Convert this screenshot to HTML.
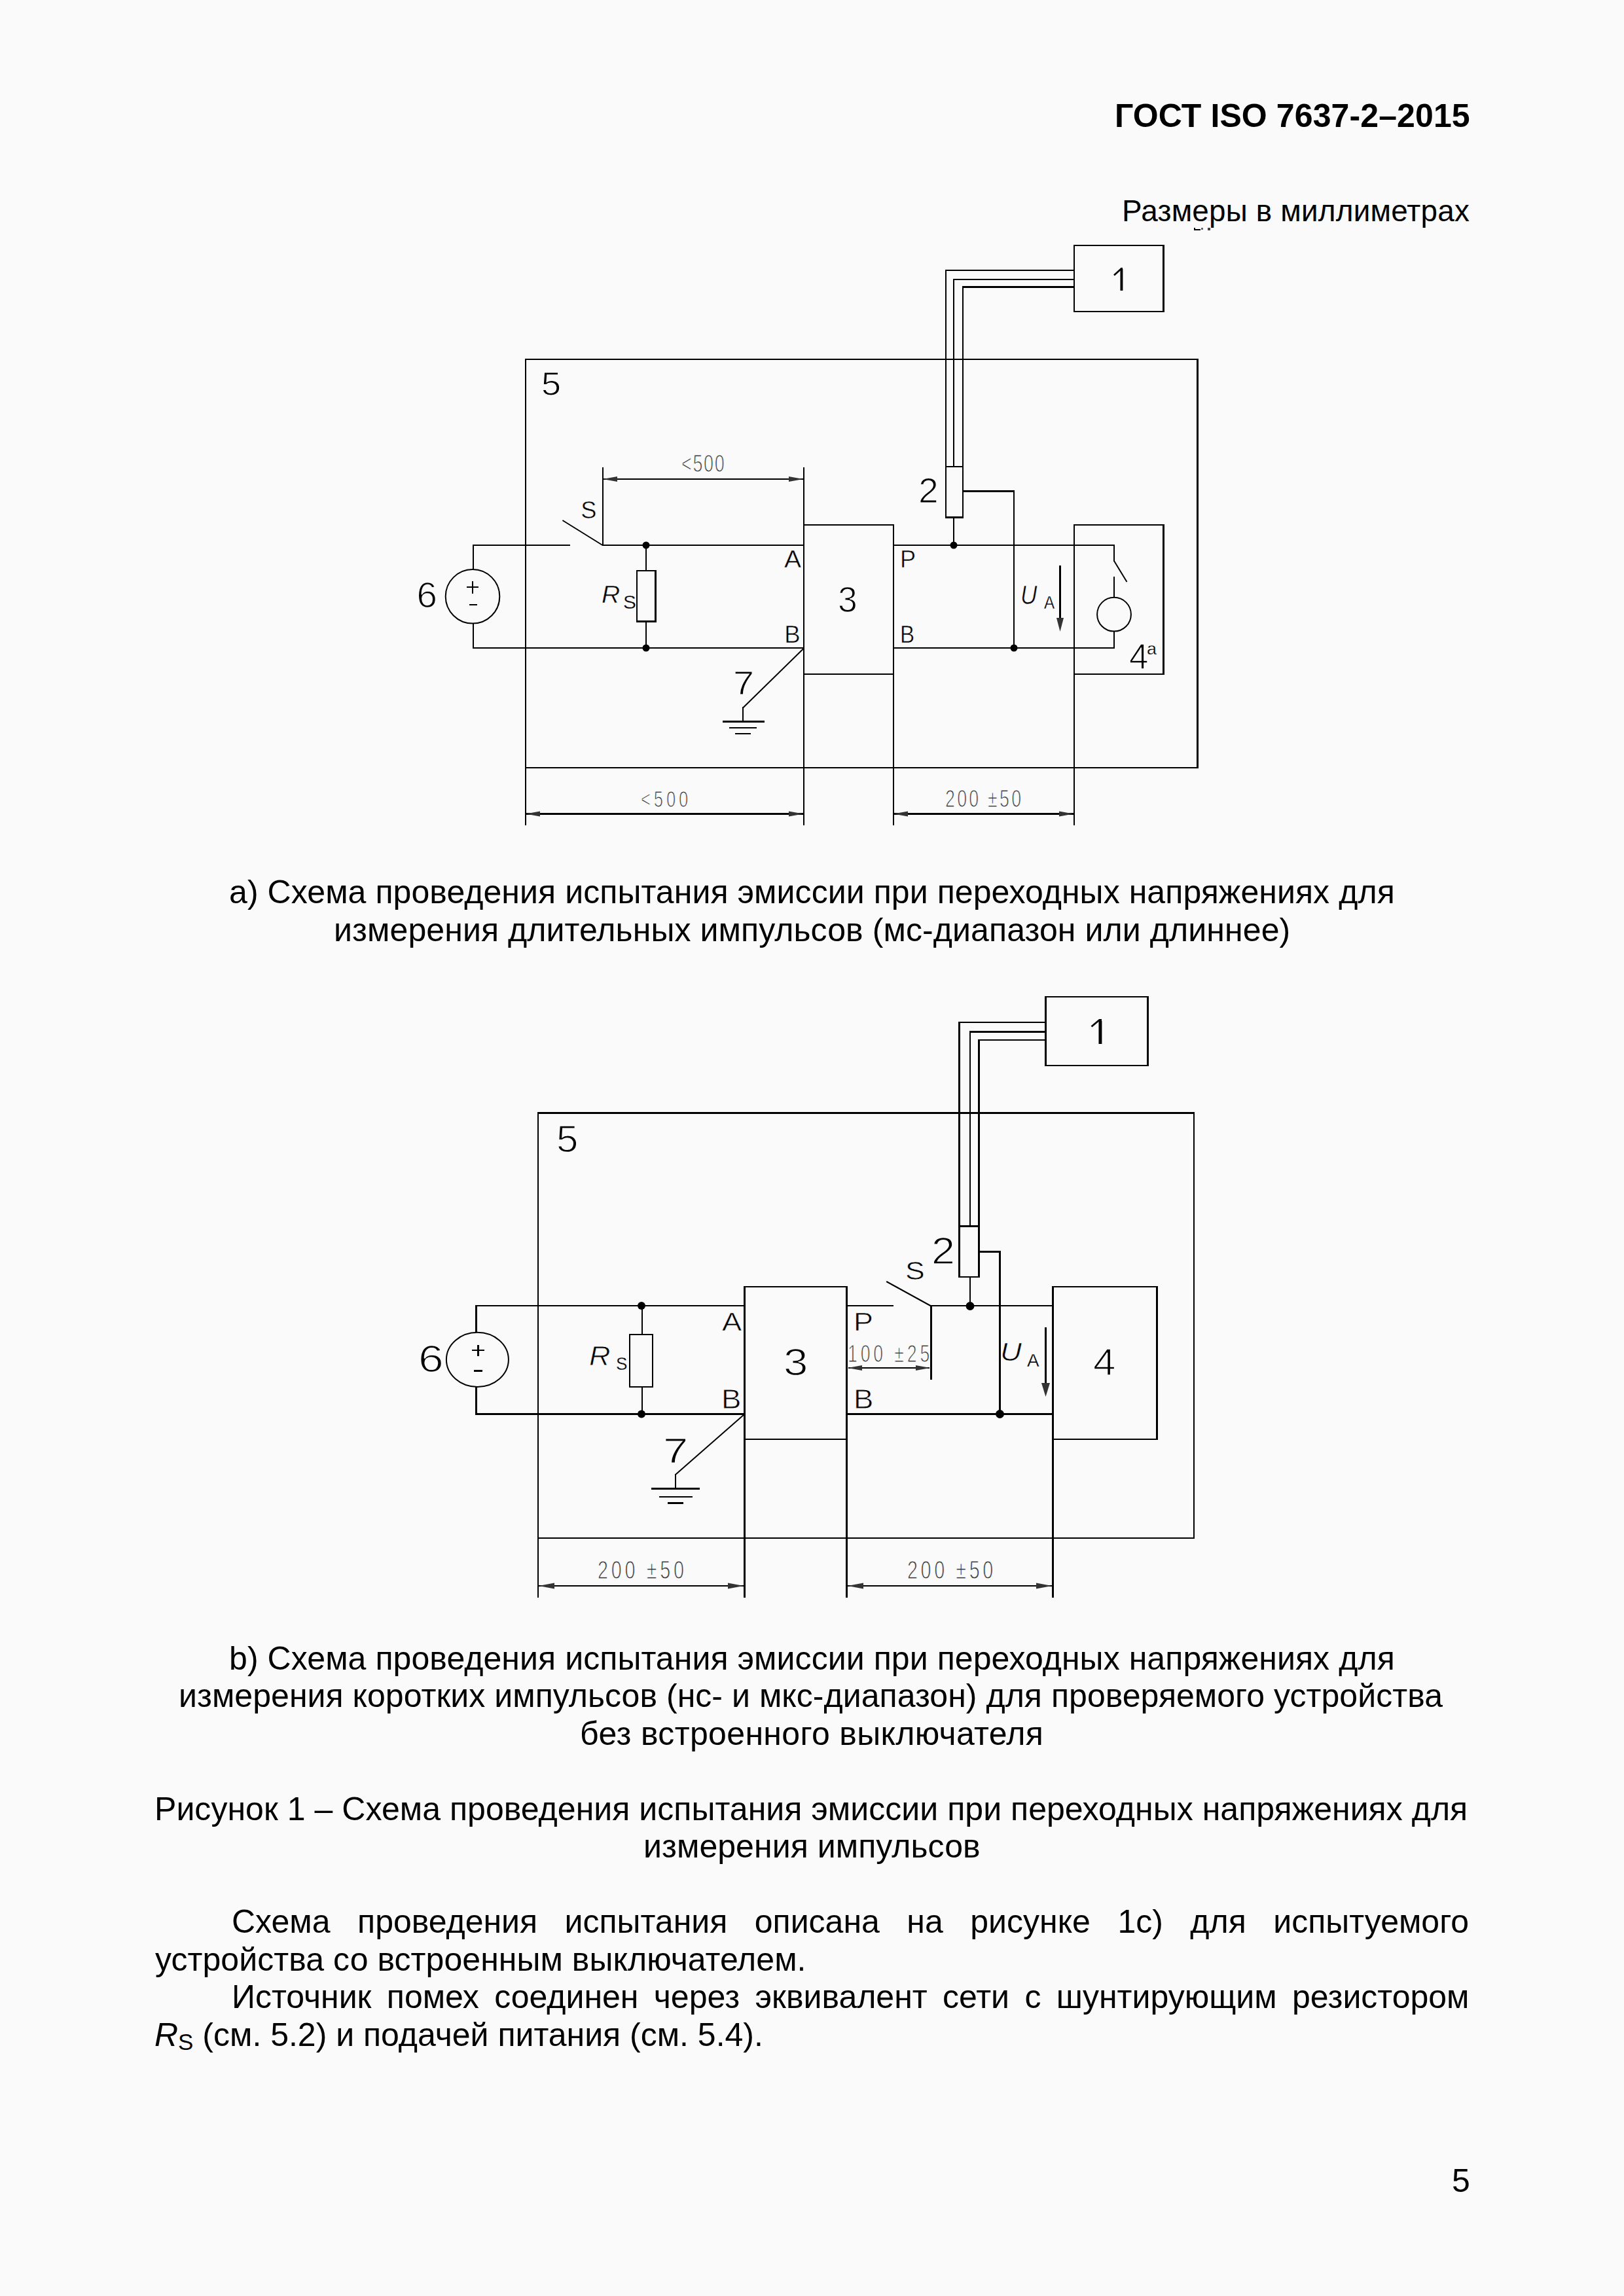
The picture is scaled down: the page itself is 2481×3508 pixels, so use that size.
<!DOCTYPE html>
<html><head><meta charset="utf-8"><style>
html,body{margin:0;padding:0;background:#fafafa;}
svg{position:absolute;left:0;top:0;display:block}
</style></head><body>
<svg width="2481" height="3508" viewBox="0 0 2481 3508">
<rect x="0" y="0" width="2481" height="3508" fill="#fafafa"/>
<g shape-rendering="crispEdges">
<rect x="1640" y="374" width="139" height="2" fill="#000"/>
<rect x="1640" y="475" width="139" height="2" fill="#000"/>
<rect x="1640" y="374" width="2" height="103" fill="#000"/>
<rect x="1776" y="374" width="3" height="103" fill="#000"/>
<rect x="1444" y="412" width="196" height="2" fill="#000"/>
<rect x="1444" y="412" width="2" height="301" fill="#000"/>
<rect x="1456" y="426" width="184" height="2" fill="#000"/>
<rect x="1456" y="426" width="2" height="287" fill="#000"/>
<rect x="1470" y="437" width="170" height="3" fill="#000"/>
<rect x="1470" y="437" width="2" height="276" fill="#000"/>
<rect x="1444" y="712" width="28" height="2" fill="#000"/>
<rect x="1444" y="789" width="28" height="3" fill="#000"/>
<rect x="1444" y="712" width="2" height="80" fill="#000"/>
<rect x="1470" y="712" width="2" height="80" fill="#000"/>
<rect x="1456" y="790" width="2" height="43" fill="#000"/>
<rect x="1471" y="749" width="79" height="3" fill="#000"/>
<rect x="1548" y="749" width="2" height="241" fill="#000"/>
<circle cx="1457" cy="833" r="5.5" fill="#000" shape-rendering="geometricPrecision"/>
<circle cx="1549" cy="990" r="5.5" fill="#000" shape-rendering="geometricPrecision"/>
<rect x="802" y="548" width="1029" height="2" fill="#000"/>
<rect x="802" y="1172" width="1029" height="2" fill="#000"/>
<rect x="802" y="548" width="2" height="626" fill="#000"/>
<rect x="1828" y="548" width="3" height="626" fill="#000"/>
<rect x="1227" y="801" width="139" height="2" fill="#000"/>
<rect x="1227" y="1029" width="139" height="2" fill="#000"/>
<rect x="1227" y="801" width="2" height="230" fill="#000"/>
<rect x="1364" y="801" width="2" height="230" fill="#000"/>
<rect x="1640" y="801" width="139" height="2" fill="#000"/>
<rect x="1640" y="1029" width="139" height="2" fill="#000"/>
<rect x="1640" y="801" width="2" height="230" fill="#000"/>
<rect x="1776" y="801" width="3" height="230" fill="#000"/>
<rect x="802" y="1172" width="2" height="89" fill="#000"/>
<rect x="1227" y="714" width="2" height="547" fill="#000"/>
<rect x="1364" y="1029" width="2" height="232" fill="#000"/>
<rect x="1640" y="1029" width="2" height="232" fill="#000"/>
<rect x="920" y="714" width="2" height="120" fill="#000"/>
<rect x="722" y="832" width="149" height="2" fill="#000"/>
<rect x="920" y="832" width="308" height="2" fill="#000"/>
<rect x="1364" y="832" width="339" height="2" fill="#000"/>
<rect x="722" y="989" width="506" height="2" fill="#000"/>
<rect x="1364" y="989" width="339" height="2" fill="#000"/>
<rect x="722" y="832" width="2" height="38" fill="#000"/>
<rect x="722" y="953" width="2" height="37" fill="#000"/>
<circle cx="722" cy="911.3" r="41.3" fill="none" stroke="#000" stroke-width="2" shape-rendering="geometricPrecision"/>
<rect x="713" y="896" width="18" height="2" fill="#000"/>
<rect x="721" y="888" width="2" height="19" fill="#000"/>
<rect x="717" y="923" width="12" height="2" fill="#000"/>
<line x1="859.4" y1="795" x2="920.5" y2="833" stroke="#000" stroke-width="2" shape-rendering="geometricPrecision"/>
<rect x="972" y="871" width="31" height="2" fill="#000"/>
<rect x="972" y="948" width="31" height="3" fill="#000"/>
<rect x="972" y="871" width="2" height="80" fill="#000"/>
<rect x="1000" y="871" width="3" height="80" fill="#000"/>
<rect x="986" y="832" width="2" height="40" fill="#000"/>
<rect x="986" y="950" width="2" height="40" fill="#000"/>
<circle cx="987" cy="833" r="5.5" fill="#000" shape-rendering="geometricPrecision"/>
<circle cx="987" cy="990" r="5.5" fill="#000" shape-rendering="geometricPrecision"/>
<line x1="1228" y1="990.5" x2="1135.5" y2="1081" stroke="#000" stroke-width="2" shape-rendering="geometricPrecision"/>
<rect x="1134" y="1080" width="2" height="23" fill="#000"/>
<rect x="1104" y="1101" width="64" height="3" fill="#000"/>
<rect x="1114" y="1111" width="42" height="2" fill="#000"/>
<rect x="1123" y="1120" width="24" height="2" fill="#000"/>
<rect x="921" y="731" width="306" height="2" fill="#000"/>
<polygon shape-rendering="geometricPrecision" points="921,732 943,728.0 943,736.0" fill="#333"/>
<polygon shape-rendering="geometricPrecision" points="1227,732 1205,728.0 1205,736.0" fill="#333"/>
<rect x="803" y="1242" width="424" height="3" fill="#000"/>
<polygon shape-rendering="geometricPrecision" points="803,1243.5 825,1239.5 825,1247.5" fill="#333"/>
<polygon shape-rendering="geometricPrecision" points="1227,1243.5 1205,1239.5 1205,1247.5" fill="#333"/>
<rect x="1365" y="1242" width="275" height="3" fill="#000"/>
<polygon shape-rendering="geometricPrecision" points="1365,1243.5 1387,1239.5 1387,1247.5" fill="#333"/>
<polygon shape-rendering="geometricPrecision" points="1640,1243.5 1618,1239.5 1618,1247.5" fill="#333"/>
<rect x="1701" y="832" width="2" height="26" fill="#000"/>
<line x1="1702" y1="857" x2="1721.5" y2="889" stroke="#000" stroke-width="2" shape-rendering="geometricPrecision"/>
<rect x="1701" y="881" width="2" height="32" fill="#000"/>
<circle cx="1702" cy="938.7" r="25.9" fill="none" stroke="#000" stroke-width="2" shape-rendering="geometricPrecision"/>
<rect x="1701" y="964" width="2" height="26" fill="#000"/>
<rect x="1618" y="864" width="3" height="82" fill="#000"/>
<polygon shape-rendering="geometricPrecision" points="1619.5,965 1614.0,944 1625.0,944" fill="#333"/>
<rect x="1712" y="409" width="3" height="35" fill="#000"/>
<rect x="1711" y="411" width="1" height="33" fill="#777"/>
<rect x="1715" y="411" width="1" height="33" fill="#999"/>
<line x1="1702" y1="420.5" x2="1713" y2="410.5" stroke="#000" stroke-width="2.6" shape-rendering="geometricPrecision"/>
<rect x="1596" y="1522" width="159" height="2" fill="#000"/>
<rect x="1596" y="1627" width="159" height="2" fill="#000"/>
<rect x="1596" y="1522" width="3" height="107" fill="#000"/>
<rect x="1752" y="1522" width="3" height="107" fill="#000"/>
<rect x="1464" y="1561" width="132" height="2" fill="#000"/>
<rect x="1464" y="1561" width="3" height="312" fill="#000"/>
<rect x="1481" y="1575" width="115" height="3" fill="#000"/>
<rect x="1481" y="1575" width="2" height="298" fill="#000"/>
<rect x="1494" y="1588" width="102" height="2" fill="#000"/>
<rect x="1494" y="1588" width="3" height="285" fill="#000"/>
<rect x="1464" y="1872" width="33" height="3" fill="#000"/>
<rect x="1464" y="1950" width="33" height="2" fill="#000"/>
<rect x="1464" y="1872" width="3" height="80" fill="#000"/>
<rect x="1494" y="1872" width="3" height="80" fill="#000"/>
<rect x="1481" y="1951" width="2" height="44" fill="#000"/>
<rect x="1496" y="1911" width="33" height="3" fill="#000"/>
<rect x="1526" y="1911" width="3" height="250" fill="#000"/>
<circle cx="1482" cy="1995.5" r="6.5" fill="#000" shape-rendering="geometricPrecision"/>
<circle cx="1527.5" cy="2160.5" r="6.5" fill="#000" shape-rendering="geometricPrecision"/>
<rect x="821" y="1699" width="1004" height="3" fill="#000"/>
<rect x="821" y="2349" width="1004" height="2" fill="#000"/>
<rect x="821" y="1699" width="2" height="652" fill="#000"/>
<rect x="1823" y="1699" width="2" height="652" fill="#000"/>
<rect x="1136" y="1965" width="159" height="2" fill="#000"/>
<rect x="1136" y="2198" width="159" height="2" fill="#000"/>
<rect x="1136" y="1965" width="3" height="235" fill="#000"/>
<rect x="1292" y="1965" width="3" height="235" fill="#000"/>
<rect x="1607" y="1965" width="162" height="2" fill="#000"/>
<rect x="1607" y="2198" width="162" height="2" fill="#000"/>
<rect x="1607" y="1965" width="3" height="235" fill="#000"/>
<rect x="1766" y="1965" width="3" height="235" fill="#000"/>
<rect x="821" y="2349" width="2" height="92" fill="#000"/>
<rect x="1136" y="2198" width="3" height="243" fill="#000"/>
<rect x="1292" y="2198" width="3" height="243" fill="#000"/>
<rect x="1607" y="2198" width="3" height="243" fill="#000"/>
<rect x="726" y="1994" width="411" height="2" fill="#000"/>
<rect x="1292" y="1994" width="73" height="2" fill="#000"/>
<rect x="1421" y="1994" width="187" height="2" fill="#000"/>
<rect x="726" y="2159" width="411" height="3" fill="#000"/>
<rect x="1292" y="2159" width="316" height="3" fill="#000"/>
<rect x="726" y="1994" width="3" height="42" fill="#000"/>
<rect x="726" y="2119" width="3" height="42" fill="#000"/>
<ellipse cx="729.4" cy="2077.3" rx="47.5" ry="41.6" fill="none" stroke="#000" stroke-width="2" shape-rendering="geometricPrecision"/>
<rect x="721" y="2062" width="19" height="2" fill="#000"/>
<rect x="729" y="2055" width="3" height="17" fill="#000"/>
<rect x="724" y="2093" width="13" height="3" fill="#000"/>
<line x1="1354.2" y1="1958" x2="1421.5" y2="1995" stroke="#000" stroke-width="2" shape-rendering="geometricPrecision"/>
<rect x="1421" y="1994" width="3" height="114" fill="#000"/>
<rect x="961" y="2038" width="37" height="2" fill="#000"/>
<rect x="961" y="2118" width="37" height="2" fill="#000"/>
<rect x="961" y="2038" width="2" height="82" fill="#000"/>
<rect x="996" y="2038" width="2" height="82" fill="#000"/>
<rect x="980" y="1994" width="2" height="45" fill="#000"/>
<rect x="980" y="2119" width="2" height="41" fill="#000"/>
<circle cx="980" cy="1995" r="6" fill="#000" shape-rendering="geometricPrecision"/>
<circle cx="980" cy="2160.5" r="6" fill="#000" shape-rendering="geometricPrecision"/>
<line x1="1137" y1="2161" x2="1032" y2="2253" stroke="#000" stroke-width="2" shape-rendering="geometricPrecision"/>
<rect x="1031" y="2252" width="2" height="22" fill="#000"/>
<rect x="995" y="2273" width="74" height="3" fill="#000"/>
<rect x="1007" y="2286" width="51" height="2" fill="#000"/>
<rect x="1020" y="2295" width="24" height="3" fill="#000"/>
<rect x="1296" y="2089" width="124" height="2" fill="#000"/>
<polygon shape-rendering="geometricPrecision" points="1295,2090 1317,2086.0 1317,2094.0" fill="#333"/>
<polygon shape-rendering="geometricPrecision" points="1421,2090 1399,2086.0 1399,2094.0" fill="#333"/>
<rect x="823" y="2422" width="313" height="2" fill="#000"/>
<polygon shape-rendering="geometricPrecision" points="823,2423 847,2418.5 847,2427.5" fill="#333"/>
<polygon shape-rendering="geometricPrecision" points="1136,2423 1112,2418.5 1112,2427.5" fill="#333"/>
<rect x="1295" y="2422" width="312" height="2" fill="#000"/>
<polygon shape-rendering="geometricPrecision" points="1295,2423 1319,2418.5 1319,2427.5" fill="#333"/>
<polygon shape-rendering="geometricPrecision" points="1607,2423 1583,2418.5 1583,2427.5" fill="#333"/>
<rect x="1596" y="2028" width="3" height="87" fill="#000"/>
<polygon shape-rendering="geometricPrecision" points="1597.5,2134 1591.0,2113 1604.0,2113" fill="#333"/>
<rect x="1679" y="1557" width="4" height="38" fill="#000"/>
<rect x="1678" y="1560" width="1" height="35" fill="#777"/>
<rect x="1683" y="1560" width="1" height="35" fill="#999"/>
<line x1="1667.5" y1="1568.5" x2="1680" y2="1558" stroke="#000" stroke-width="2.8" shape-rendering="geometricPrecision"/>
<rect x="1824" y="348" width="2" height="4" fill="#000"/>
<rect x="1824" y="350" width="10" height="2" fill="#000"/>
<rect x="1835" y="348" width="3" height="3" fill="#666"/>
<rect x="1845" y="348" width="4" height="4" fill="#444"/>
</g>
<g font-family="Liberation Sans">
<text transform="translate(827.00,603.70) scale(1.0870,1)" font-family="Liberation Sans" font-size="49.63" fill="#000" stroke="#fafafa" stroke-width="1.09" >5</text>
<text transform="translate(887.30,791.80) scale(1.0012,1)" font-family="Liberation Sans" font-size="36.22" fill="#000" stroke="#fafafa" stroke-width="0.55" >S</text>
<text transform="translate(636.50,927.80) scale(1.0278,1)" font-family="Liberation Sans" font-size="54.85" fill="#000" stroke="#fafafa" stroke-width="1.29" >6</text>
<text transform="translate(919.00,921.00) scale(1.0690,1)" font-family="Liberation Sans" font-size="36.53" fill="#000" stroke="#fafafa" stroke-width="0.56" font-style="italic">R</text>
<text transform="translate(952.00,929.80) scale(0.9887,1)" font-family="Liberation Sans" font-size="30.23" fill="#000" stroke="#fafafa" stroke-width="0.31" >S</text>
<text transform="translate(1198.00,867.00) scale(1.0833,1)" font-family="Liberation Sans" font-size="36.11" fill="#000" stroke="#fafafa" stroke-width="0.54" >A</text>
<text transform="translate(1198.30,981.80) scale(1.0087,1)" font-family="Liberation Sans" font-size="36.22" fill="#000" stroke="#fafafa" stroke-width="0.55" >B</text>
<text transform="translate(1120.10,1060.70) scale(1.1622,1)" font-family="Liberation Sans" font-size="49.63" fill="#000" stroke="#fafafa" stroke-width="1.09" >7</text>
<text transform="translate(1280.00,935.00) scale(0.9600,1)" font-family="Liberation Sans" font-size="55.67" fill="#000" stroke="#fafafa" stroke-width="1.33" >3</text>
<text transform="translate(1375.00,867.00) scale(1.0000,1)" font-family="Liberation Sans" font-size="36.11" fill="#000" stroke="#fafafa" stroke-width="0.54" >P</text>
<text transform="translate(1375.00,981.60) scale(0.9174,1)" font-family="Liberation Sans" font-size="36.22" fill="#000" stroke="#fafafa" stroke-width="0.55" >B</text>
<text transform="translate(1403.00,768.00) scale(1.0435,1)" font-family="Liberation Sans" font-size="52.82" fill="#000" stroke="#fafafa" stroke-width="1.21" >2</text>
<text transform="translate(1559.00,922.70) scale(0.8833,1)" font-family="Liberation Sans" font-size="39.79" fill="#000" stroke="#fafafa" stroke-width="0.69" font-style="italic">U</text>
<text transform="translate(1595.00,929.70) scale(0.8858,1)" font-family="Liberation Sans" font-size="27.33" fill="#000" stroke="#fafafa" stroke-width="0.3" >A</text>
<text transform="translate(1725.00,1021.70) scale(0.9603,1)" font-family="Liberation Sans" font-size="55.15" fill="#000" stroke="#fafafa" stroke-width="1.31" >4</text>
<text transform="translate(1752.00,999.80) scale(1.0281,1)" font-family="Liberation Sans" font-size="26.13" fill="#000" stroke="#fafafa" stroke-width="0.3" >a</text>
<text transform="translate(850.00,1760.00) scale(1.0475,1)" font-family="Liberation Sans" font-size="57.21" fill="#000" stroke="#fafafa" stroke-width="1.39" >5</text>
<text transform="translate(639.00,2096.00) scale(1.2150,1)" font-family="Liberation Sans" font-size="57.21" fill="#000" stroke="#fafafa" stroke-width="1.39" >6</text>
<text transform="translate(900.00,2086.00) scale(1.0782,1)" font-family="Liberation Sans" font-size="41.72" fill="#000" stroke="#fafafa" stroke-width="0.77" font-style="italic">R</text>
<text transform="translate(941.00,2093.00) scale(0.9412,1)" font-family="Liberation Sans" font-size="27.85" fill="#000" stroke="#fafafa" stroke-width="0.3" >S</text>
<text transform="translate(1103.00,2033.00) scale(1.1600,1)" font-family="Liberation Sans" font-size="38.94" fill="#000" stroke="#fafafa" stroke-width="0.66" >A</text>
<text transform="translate(1102.00,2152.00) scale(1.0909,1)" font-family="Liberation Sans" font-size="41.72" fill="#000" stroke="#fafafa" stroke-width="0.77" >B</text>
<text transform="translate(1013.00,2235.00) scale(1.3043,1)" font-family="Liberation Sans" font-size="52.82" fill="#000" stroke="#fafafa" stroke-width="1.21" >7</text>
<text transform="translate(1197.00,2101.00) scale(1.1745,1)" font-family="Liberation Sans" font-size="57.21" fill="#000" stroke="#fafafa" stroke-width="1.39" >3</text>
<text transform="translate(1304.00,2033.00) scale(1.1520,1)" font-family="Liberation Sans" font-size="38.94" fill="#000" stroke="#fafafa" stroke-width="0.66" >P</text>
<text transform="translate(1304.00,2152.00) scale(1.0909,1)" font-family="Liberation Sans" font-size="41.72" fill="#000" stroke="#fafafa" stroke-width="0.77" >B</text>
<text transform="translate(1383.00,1955.00) scale(1.1447,1)" font-family="Liberation Sans" font-size="38.94" fill="#000" stroke="#fafafa" stroke-width="0.66" >S</text>
<text transform="translate(1423.00,1931.00) scale(1.1296,1)" font-family="Liberation Sans" font-size="57.21" fill="#000" stroke="#fafafa" stroke-width="1.39" >2</text>
<text transform="translate(1528.00,2079.00) scale(1.1681,1)" font-family="Liberation Sans" font-size="38.94" fill="#000" stroke="#fafafa" stroke-width="0.66" font-style="italic">U</text>
<text transform="translate(1569.00,2088.00) scale(1.0028,1)" font-family="Liberation Sans" font-size="27.85" fill="#000" stroke="#fafafa" stroke-width="0.3" >A</text>
<text transform="translate(1670.00,2101.00) scale(1.0833,1)" font-family="Liberation Sans" font-size="57.21" fill="#000" stroke="#fafafa" stroke-width="1.39" >4</text>
<text transform="translate(1041.00,720.80) scale(0.7400,1)" font-family="Liberation Sans" font-size="36.53" fill="#383838" stroke="#fafafa" stroke-width="1.1" letter-spacing="2.198" >&lt;500</text>
<text transform="translate(979.00,1233.00) scale(0.7400,1)" font-family="Liberation Sans" font-size="34.78" fill="#383838" stroke="#fafafa" stroke-width="1.1" letter-spacing="6.523" >&lt;500</text>
<text transform="translate(1444.00,1233.00) scale(0.7400,1)" font-family="Liberation Sans" font-size="36.23" fill="#383838" stroke="#fafafa" stroke-width="1.1" letter-spacing="4.360" >200 ±50</text>
<text transform="translate(1295.00,2081.00) scale(0.7400,1)" font-family="Liberation Sans" font-size="36.11" fill="#383838" stroke="#fafafa" stroke-width="1.1" letter-spacing="6.523" >100 ±25</text>
<text transform="translate(913.00,2412.00) scale(0.7400,1)" font-family="Liberation Sans" font-size="38.94" fill="#383838" stroke="#fafafa" stroke-width="1.1" letter-spacing="6.342" >200 ±50</text>
<text transform="translate(1386.00,2412.00) scale(0.7400,1)" font-family="Liberation Sans" font-size="38.94" fill="#383838" stroke="#fafafa" stroke-width="1.1" letter-spacing="6.162" >200 ±50</text>
</g>
<text x="1703" y="194" font-family="Liberation Sans" font-size="50" font-weight="bold" letter-spacing="0.105">ГОСТ ISO 7637-2–2015</text>
<text x="1714" y="338" font-family="Liberation Sans" font-size="45.83"  letter-spacing="0.200">Размеры в миллиметрах</text>
<text x="350" y="1380" font-family="Liberation Sans" font-size="50"  letter-spacing="0.075">а) Схема проведения испытания эмиссии при переходных напряжениях для</text>
<text x="510" y="1438" font-family="Liberation Sans" font-size="50"  letter-spacing="0.091">измерения длительных импульсов (мс-диапазон или длиннее)</text>
<text x="350" y="2551" font-family="Liberation Sans" font-size="50"  letter-spacing="0.075">b) Схема проведения испытания эмиссии при переходных напряжениях для</text>
<text x="273" y="2608" font-family="Liberation Sans" font-size="50"  letter-spacing="0.039">измерения коротких импульсов (нс- и мкс-диапазон) для проверяемого устройства</text>
<text x="886" y="2666" font-family="Liberation Sans" font-size="50"  letter-spacing="0.346">без встроенного выключателя</text>
<text x="236" y="2781" font-family="Liberation Sans" font-size="50"  letter-spacing="0.039">Рисунок 1 – Схема проведения испытания эмиссии при переходных напряжениях для</text>
<text x="983" y="2838" font-family="Liberation Sans" font-size="50"  letter-spacing="0.056">измерения импульсов</text>
<text x="354" y="2953" font-family="Liberation Sans" font-size="50"  word-spacing="27.625">Схема проведения испытания описана на рисунке 1с) для испытуемого</text>
<text x="237" y="3011" font-family="Liberation Sans" font-size="50"  letter-spacing="0.054">устройства со встроенным выключателем.</text>
<text x="354" y="3068" font-family="Liberation Sans" font-size="50"  word-spacing="9.500">Источник помех соединен через эквивалент сети с шунтирующим резистором</text>
<text x="2218" y="3349" font-family="Liberation Sans" font-size="50"  letter-spacing="0.000">5</text>
<text x="236" y="3126" font-family="Liberation Sans" font-size="50" ><tspan font-style="italic">R</tspan><tspan font-size="35" dy="6">S</tspan><tspan dy="-6"> (см. 5.2) и подачей питания (см. 5.4).</tspan></text>
</svg>
</body></html>
